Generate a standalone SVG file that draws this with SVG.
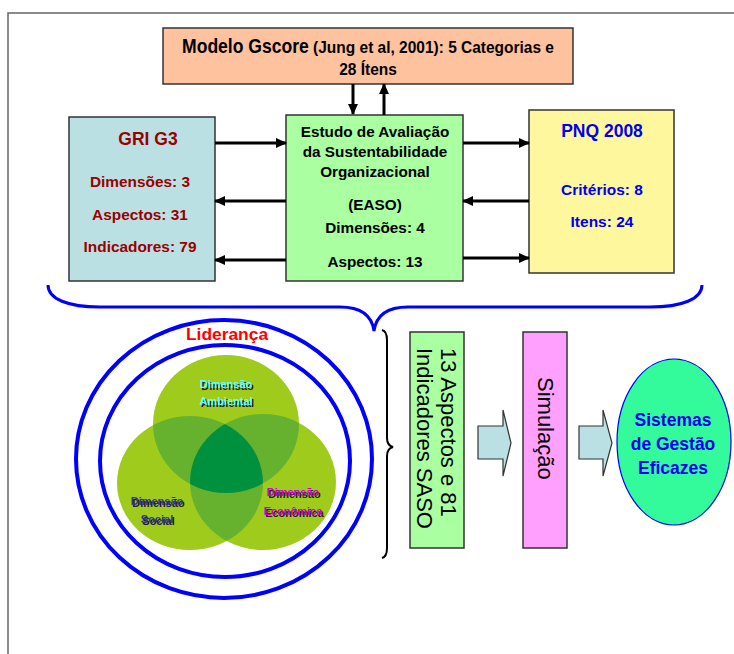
<svg xmlns="http://www.w3.org/2000/svg" width="734" height="654" viewBox="0 0 734 654">
<style>
text{font-family:"Liberation Sans",Arial,sans-serif;}
.b{font-weight:bold;}
.box{stroke:#333;stroke-width:1.5;}
.con{stroke:#000;stroke-width:3;fill:none;}
.gri{fill:#990000;font-weight:bold;font-size:15.4px;text-anchor:middle;}
.easo{fill:#000;font-weight:bold;font-size:15.3px;text-anchor:middle;}
.pnq{fill:#0000EE;font-weight:bold;font-size:15.5px;text-anchor:middle;}
.ttl{font-size:17.5px;}
.venn{font-weight:bold;font-size:11px;text-anchor:middle;}
.sh{fill:#222;}
.rot{font-size:22px;fill:#000;}
.blk{fill:#BBE0E3;stroke:#333;stroke-width:1.2;}
</style>
<defs>
<marker id="ah" markerUnits="userSpaceOnUse" markerWidth="11" markerHeight="10" refX="10" refY="5" orient="auto">
<path d="M0,0 L11,5 L0,10 z" fill="#000"/>
</marker>
<clipPath id="cA"><ellipse cx="226" cy="424" rx="73" ry="69"/></clipPath>
<clipPath id="cS"><ellipse cx="190" cy="483" rx="73" ry="67"/></clipPath>
</defs>
<rect x="8" y="13" width="760" height="700" fill="#fff" stroke="#666" stroke-width="1.5"/>

<g id="gscore">
<rect class="box" x="163" y="28" width="410" height="56" fill="#FFC29F"/>
<text transform="translate(368,53) scale(0.9,1)" text-anchor="middle" class="b" fill="#000"><tspan font-size="19.5">Modelo Gscore</tspan><tspan font-size="17.2"> (Jung et al, 2001): 5 Categorias e</tspan></text>
<text transform="translate(368,75) scale(0.9,1)" text-anchor="middle" class="b" fill="#000" font-size="17.2">28 Ítens</text>
</g>

<g id="gri">
<rect class="box" x="69" y="117" width="146" height="164" fill="#BBE0E3"/>
<text class="gri ttl" x="148" y="145">GRI G3</text>
<text class="gri" x="140" y="187">Dimensões: 3</text>
<text class="gri" x="140" y="220">Aspectos: 31</text>
<text class="gri" x="140" y="252">Indicadores: 79</text>
</g>

<g id="easo">
<rect class="box" x="286" y="115" width="177" height="166" fill="#AAFFA0"/>
<text class="easo" x="375" y="137">Estudo de Avaliação</text>
<text class="easo" x="375" y="157">da Sustentabilidade</text>
<text class="easo" x="375" y="177">Organizacional</text>
<text class="easo" x="375" y="210">(EASO)</text>
<text class="easo" x="375" y="233">Dimensões: 4</text>
<text class="easo" x="375" y="267">Aspectos: 13</text>
</g>

<g id="pnq">
<rect class="box" x="529" y="110" width="145" height="163" fill="#FFF79E"/>
<text class="pnq ttl" x="602" y="137">PNQ 2008</text>
<text class="pnq" x="602" y="195">Critérios: 8</text>
<text class="pnq" x="602" y="227">Itens: 24</text>
</g>

<g id="connectors">
<line class="con" x1="353" y1="84" x2="353" y2="114" marker-end="url(#ah)"/>
<line class="con" x1="384" y1="115" x2="384" y2="84" marker-end="url(#ah)"/>
<line class="con" x1="215" y1="143" x2="286" y2="143" marker-end="url(#ah)"/>
<line class="con" x1="286" y1="201" x2="215" y2="201" marker-end="url(#ah)"/>
<line class="con" x1="286" y1="260" x2="215" y2="260" marker-end="url(#ah)"/>
<line class="con" x1="463" y1="143" x2="529" y2="143" marker-end="url(#ah)"/>
<line class="con" x1="529" y1="201" x2="463" y2="201" marker-end="url(#ah)"/>
<line class="con" x1="463" y1="258" x2="529" y2="258" marker-end="url(#ah)"/>
<path d="M48,285 C48,299 68,307 100,307 L340,307 C362,307 372,316 374,331 C376,316 386,307 408,307 L650,307 C682,307 702,299 702,285" fill="none" stroke="#0000FF" stroke-width="3"/>
<path d="M382,330 C386,331 387,334 387,340 L387,438 C387,443 389,446 393,447 C389,448 387,451 387,456 L387,548 C387,554 386,557 382,558" fill="none" stroke="#000" stroke-width="2"/>
<path class="blk" d="M478,426 L503,426 L503,410 L511,443 L503,476 L503,459 L478,459 z"/>
<path class="blk" d="M579,426 L603,426 L603,410 L612,443 L603,476 L603,459 L579,459 z"/>
</g>

<g id="lideranca">
<ellipse cx="224" cy="459" rx="148" ry="139" fill="none" stroke="#0000FF" stroke-width="4"/>
<ellipse cx="225" cy="461" rx="125" ry="116" fill="none" stroke="#0000FF" stroke-width="4"/>
<text x="227" y="340" text-anchor="middle" class="b" font-size="17.4" fill="#FF0000">Liderança</text>
</g>

<g id="venn">
<ellipse cx="226" cy="424" rx="73" ry="69" fill="#9FCB1C"/>
<ellipse cx="190" cy="483" rx="73" ry="67" fill="#9FCB1C"/>
<ellipse cx="263" cy="482" rx="73" ry="68" fill="#9FCB1C"/>
<g clip-path="url(#cA)">
<ellipse cx="190" cy="483" rx="73" ry="67" fill="#66B22E"/>
<ellipse cx="263" cy="482" rx="73" ry="68" fill="#66B22E"/>
</g>
<g clip-path="url(#cS)">
<ellipse cx="263" cy="482" rx="73" ry="68" fill="#66B22E"/>
</g>
<g clip-path="url(#cA)"><g clip-path="url(#cS)">
<ellipse cx="263" cy="482" rx="73" ry="68" fill="#00913F"/>
</g></g>
</g>

<g id="dim-ambiental">
<text class="venn sh" x="227.5" y="389.5">Dimensão</text>
<text class="venn sh" x="227.5" y="406.5">Ambiental</text>
<text class="venn" x="226" y="388" fill="#66FFFF">Dimensão</text>
<text class="venn" x="226" y="405" fill="#66FFFF">Ambiental</text>
</g>
<g id="dim-social">
<text class="venn sh" x="158.5" y="506.5">Dimensão</text>
<text class="venn sh" x="158.5" y="524.5">Social</text>
<text class="venn" x="157" y="505" fill="#333399">Dimensão</text>
<text class="venn" x="157" y="523" fill="#333399">Social</text>
</g>
<g id="dim-economica">
<text class="venn sh" x="294.5" y="497.5">Dimensão</text>
<text class="venn sh" x="294.5" y="516.5">Econômica</text>
<text class="venn" x="293" y="496" fill="#CC00CC">Dimensão</text>
<text class="venn" x="293" y="515" fill="#CC00CC">Econômica</text>
</g>

<g id="aspectos">
<rect class="box" x="410" y="332" width="54" height="216" fill="#AAFFA0"/>
<text class="rot" transform="translate(441,348) rotate(90)"><tspan x="0" y="0">13 Aspectos e 81</tspan><tspan x="0" y="24">Indicadores SASO</tspan></text>
</g>

<g id="simulacao">
<rect class="box" x="523" y="332" width="44" height="216" fill="#FFA0FF"/>
<text class="rot" transform="translate(538,377) rotate(90)">Simulação</text>
</g>

<g id="sistemas">
<ellipse cx="674" cy="442" rx="57" ry="83" fill="#33FA9B" stroke="#0000FF" stroke-width="1.2"/>
<text x="673" y="426" text-anchor="middle" class="b" font-size="17.5" fill="#0000EE">Sistemas</text>
<text x="673" y="450" text-anchor="middle" class="b" font-size="17.5" fill="#0000EE">de Gestão</text>
<text x="673" y="474" text-anchor="middle" class="b" font-size="17.5" fill="#0000EE">Eficazes</text>
</g>
</svg>
